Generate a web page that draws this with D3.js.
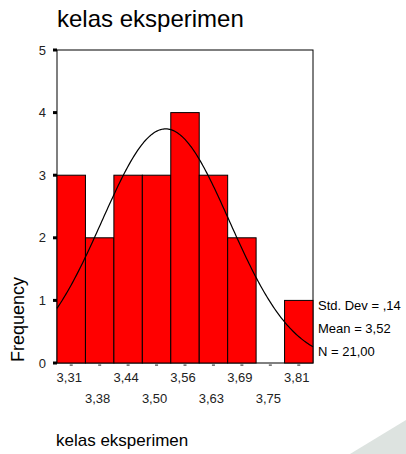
<!DOCTYPE html>
<html>
<head>
<meta charset="utf-8">
<script src="https://cdn.jsdelivr.net/npm/d3@7"></script>
<style>
  html, body { margin: 0; padding: 0; background: #fff; }
  svg { display: block; font-family: "Liberation Sans", Arial, sans-serif; }
</style>
</head>
<body>
<div id="chart"></div>
<script>
// histogram data (SPSS style, 9 bins)
const binCenters = [3.3125, 3.375, 3.4375, 3.5, 3.5625, 3.625, 3.6875, 3.75, 3.8125];
const binLabels = ['3,31', '3,38', '3,44', '3,50', '3,56', '3,63', '3,69', '3,75', '3,81'];
const counts = [3, 2, 3, 3, 4, 3, 2, 0, 1];
const yTicks = [0, 1, 2, 3, 4, 5];
const statLabels = ['Std. Dev = ,14', 'Mean = 3,52', 'N = 21,00'];
const mean = 3.52;
const stdDev = 0.14;
const nCases = 21;
const binWidth = 0.0625;

const width = 406, height = 454;
const plot = { left: 57, right: 313, top: 50, bottom: 363 };

const svg = d3.select('#chart').append('svg')
  .attr('width', width)
  .attr('height', height);

svg.append('rect').attr('width', width).attr('height', height).attr('fill', '#fff');

// decorative grey corner
svg.append('path')
  .attr('d', `M350,${height} L${width},420 L${width},${height} Z`)
  .attr('fill', '#dde3e0');

const x = d3.scaleLinear()
  .domain([binCenters[0] - binWidth / 2, binCenters[binCenters.length - 1] + binWidth / 2])
  .range([plot.left, plot.right]);

const y = d3.scaleLinear()
  .domain([0, 5])
  .range([plot.bottom, plot.top]);

// title
svg.append('text')
  .attr('x', 57).attr('y', 27)
  .attr('font-size', '24px')
  .attr('fill', '#000')
  .text('kelas eksperimen');

// frame
svg.append('rect')
  .attr('x', plot.left).attr('y', plot.top)
  .attr('width', plot.right - plot.left)
  .attr('height', plot.bottom - plot.top)
  .attr('fill', 'none')
  .attr('stroke', '#000')
  .attr('stroke-width', 1);

// bars
svg.append('g').selectAll('rect')
  .data(binCenters.map((c, i) => ({ c, n: counts[i] })).filter(d => d.n > 0))
  .enter().append('rect')
  .attr('x', d => x(d.c - binWidth / 2))
  .attr('y', d => y(d.n))
  .attr('width', d => x(d.c + binWidth / 2) - x(d.c - binWidth / 2))
  .attr('height', d => y(0) - y(d.n))
  .attr('fill', '#ff0000')
  .attr('stroke', '#000')
  .attr('stroke-width', 1);

// normal curve overlay from mean / std dev
const curveX = d3.range(x.domain()[0], x.domain()[1] + 1e-9, (x.domain()[1] - x.domain()[0]) / 200);
const density = v => nCases * binWidth / (stdDev * Math.sqrt(2 * Math.PI)) *
  Math.exp(-0.5 * Math.pow((v - mean) / stdDev, 2));

svg.append('path')
  .datum(curveX)
  .attr('d', d3.line().x(d => x(d)).y(d => y(density(d))))
  .attr('fill', 'none')
  .attr('stroke', '#000')
  .attr('stroke-width', 1.2);

// y axis ticks + labels
const yAxis = svg.append('g');
yTicks.forEach(t => {
  yAxis.append('rect')
    .attr('x', plot.left - 4).attr('y', y(t) - 1.5)
    .attr('width', 4).attr('height', 3)
    .attr('fill', '#000');
  yAxis.append('text')
    .attr('x', 46).attr('y', y(t))
    .attr('dy', '0.35em')
    .attr('text-anchor', 'end')
    .attr('font-size', '13px')
    .attr('fill', '#222')
    .text(t);
});

// x axis ticks + staggered labels
const xAxis = svg.append('g');
binCenters.forEach((c, i) => {
  xAxis.append('rect')
    .attr('x', x(c) - 1.5).attr('y', plot.bottom + 1.5)
    .attr('width', 3).attr('height', 1.2)
    .attr('fill', '#444');
  xAxis.append('text')
    .attr('x', x(c) - 2)
    .attr('y', i % 2 === 0 ? 382 : 403)
    .attr('text-anchor', 'middle')
    .attr('font-size', '13px')
    .attr('fill', '#222')
    .text(binLabels[i]);
});

// y axis title
svg.append('text')
  .attr('transform', 'translate(24,362) rotate(-90)')
  .attr('font-size', '18px')
  .attr('fill', '#000')
  .text('Frequency');

// x axis title
svg.append('text')
  .attr('x', 56).attr('y', 446)
  .attr('font-size', '17px')
  .attr('fill', '#000')
  .text('kelas eksperimen');

// stats box
statLabels.forEach((s, i) => {
  svg.append('text')
    .attr('x', 318).attr('y', 310 + i * 23)
    .attr('font-size', '13px')
    .attr('fill', '#000')
    .text(s);
});
</script>
</body>
</html>
